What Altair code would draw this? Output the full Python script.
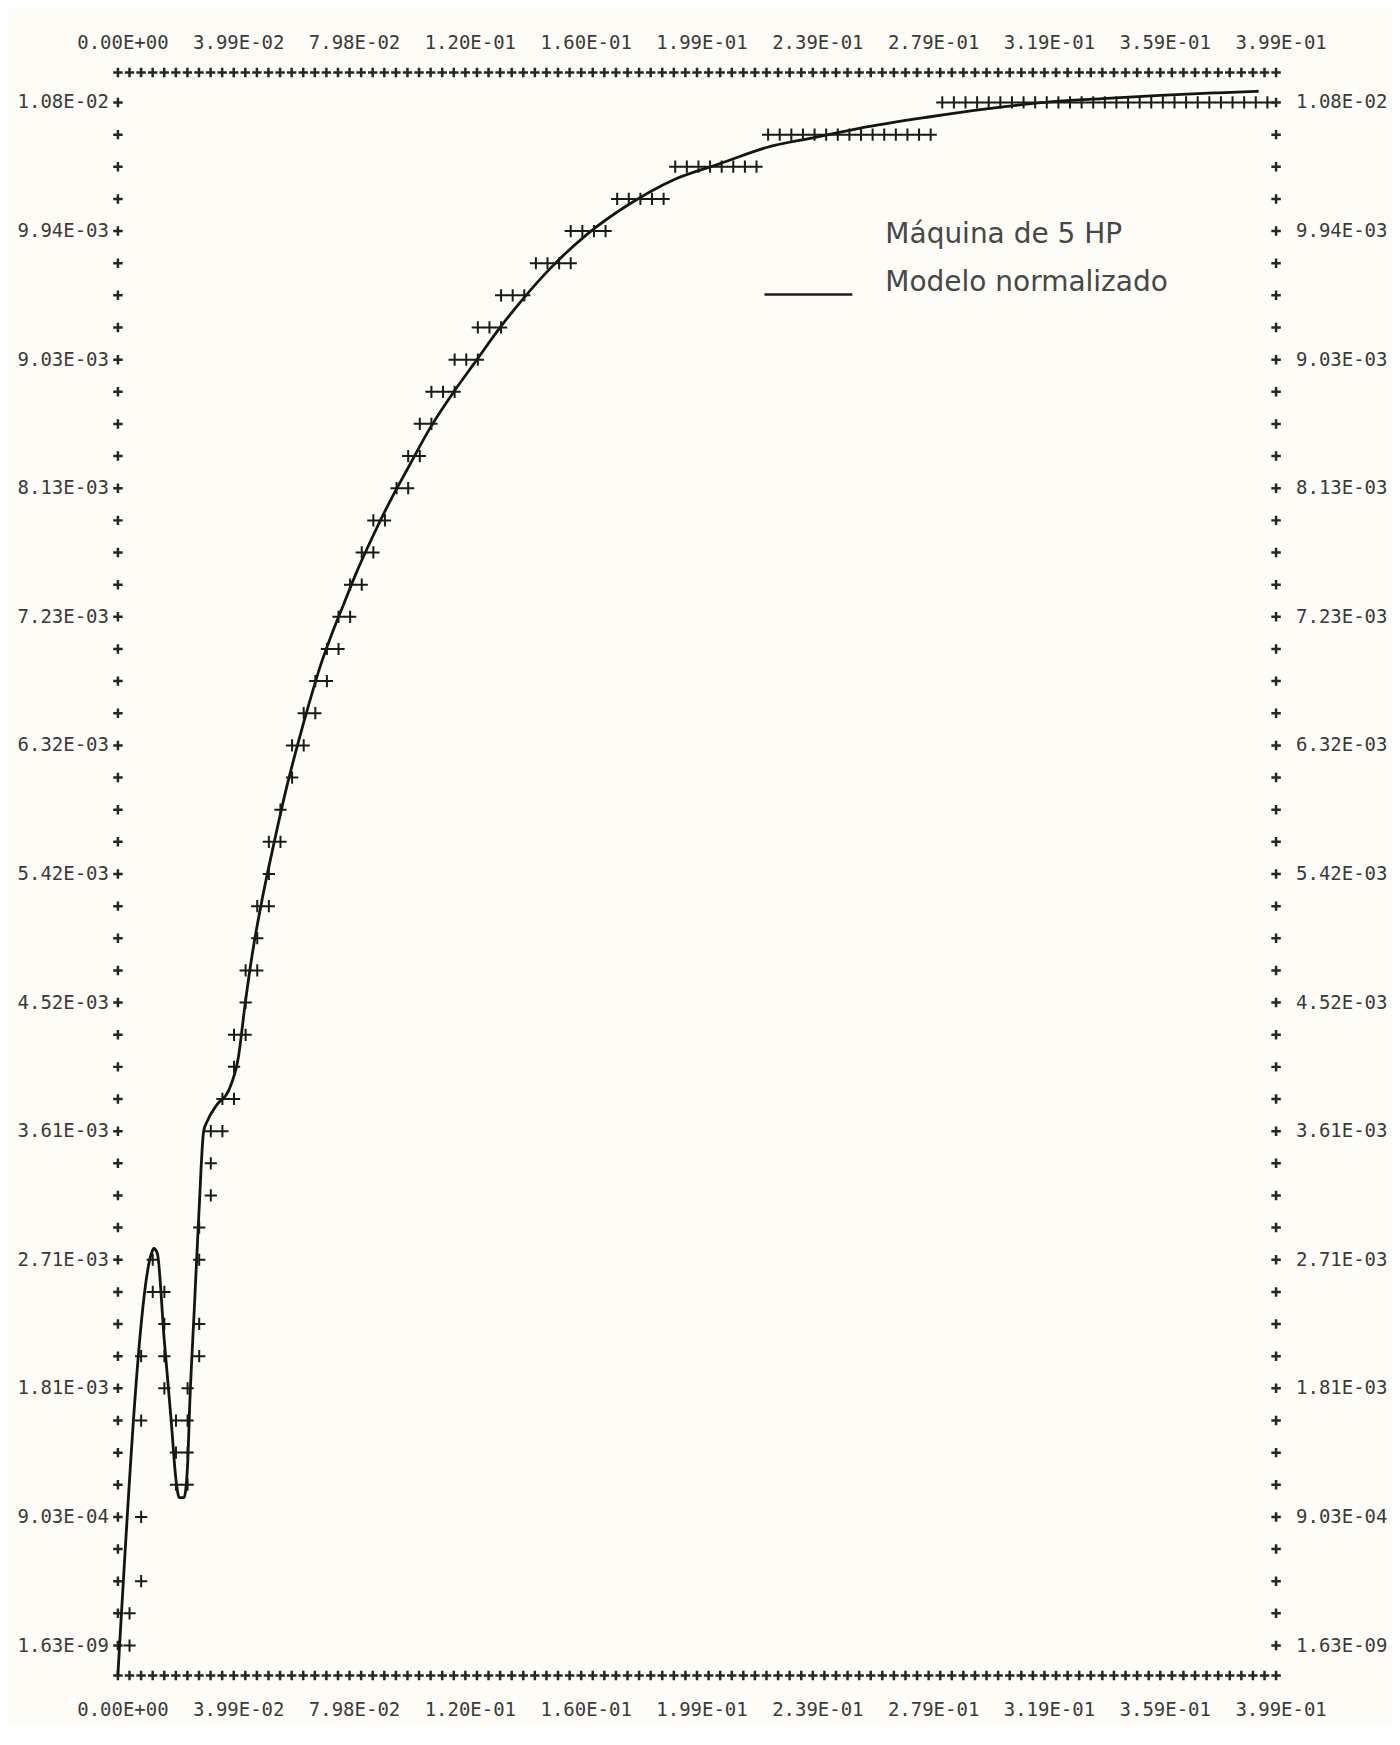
import altair as alt
import pandas as pd

# ---------------- axis text (as printed) ----------------
x_tick_values = [0.0, 0.0399, 0.0798, 0.1197, 0.1596, 0.1995, 0.2394, 0.2793, 0.3192, 0.3591, 0.399]
x_tick_labels = ["0.00E+00", "3.99E-02", "7.98E-02", "1.20E-01", "1.60E-01", "1.99E-01",
                 "2.39E-01", "2.79E-01", "3.19E-01", "3.59E-01", "3.99E-01"]
y_tick_values = [0.0, 0.000903, 0.001806, 0.002709, 0.003612, 0.004515, 0.005418,
                 0.006321, 0.007224, 0.008127, 0.009030, 0.009933, 0.010836]
y_tick_labels = ["1.63E-09", "9.03E-04", "1.81E-03", "2.71E-03", "3.61E-03", "4.52E-03", "5.42E-03",
                 "6.32E-03", "7.23E-03", "8.13E-03", "9.03E-03", "9.94E-03", "1.08E-02"]

# ---------------- measured points "Maquina de 5 HP" (printer rows) ----------------
meas_row_y = [0.0, 0.000226, 0.000452, 0.000903, 0.001129, 0.001355, 0.001580, 0.001806,
              0.002032, 0.002258, 0.002483, 0.002709, 0.002935, 0.003161, 0.003386, 0.003612,
              0.003838, 0.004064, 0.004289, 0.004515, 0.004741, 0.004967, 0.005192, 0.005418,
              0.005644, 0.005870, 0.006095, 0.006321, 0.006547, 0.006773, 0.006998, 0.007224,
              0.007450, 0.007676, 0.007901, 0.008127, 0.008353, 0.008579, 0.008804, 0.009030,
              0.009256, 0.009482, 0.009707, 0.009933, 0.010159, 0.010385, 0.010610, 0.010836]
meas_row_x = [
    [0.004], [0.004], [0.008], [0.008],
    [0.020, 0.024], [0.020, 0.024], [0.008, 0.020, 0.024], [0.016, 0.024],
    [0.008, 0.016, 0.028], [0.016, 0.028], [0.012, 0.016], [0.012, 0.028],
    [0.028], [0.032], [0.032], [0.032, 0.036],
    [0.036, 0.040], [0.040], [0.040, 0.044], [0.044],
    [0.044, 0.048], [0.048], [0.048, 0.052], [0.052],
    [0.052, 0.056], [0.056], [0.060], [0.060, 0.064],
    [0.064, 0.068], [0.068, 0.072], [0.072, 0.076], [0.076, 0.080],
    [0.080, 0.084], [0.084, 0.088], [0.088, 0.092], [0.096, 0.100],
    [0.100, 0.104], [0.104, 0.108], [0.108, 0.112, 0.116], [0.116, 0.120, 0.124],
    [0.124, 0.128, 0.132], [0.132, 0.136, 0.140], [0.144, 0.148, 0.152, 0.156],
    [0.156, 0.160, 0.164, 0.168],
    [0.172, 0.176, 0.180, 0.184, 0.188],
    [0.192, 0.196, 0.200, 0.204, 0.208, 0.212, 0.216, 0.220],
    [0.224, 0.228, 0.232, 0.236, 0.240, 0.244, 0.248, 0.252, 0.256, 0.260, 0.264,
     0.268, 0.272, 0.276, 0.280],
    [0.284, 0.288, 0.292, 0.296, 0.300, 0.304, 0.308, 0.312, 0.316, 0.320, 0.324,
     0.328, 0.332, 0.336, 0.340, 0.344, 0.348, 0.352, 0.356, 0.360, 0.364, 0.368,
     0.372, 0.376, 0.380, 0.384, 0.388, 0.392, 0.396],
]

# ---------------- "Modelo normalizado" curve ----------------
model_x = [0.0, 0.01157, 0.01237, 0.01357, 0.01596, 0.01835, 0.01995, 0.02115, 0.02274,
           0.02394, 0.02474, 0.02633, 0.02793, 0.02953, 0.03072, 0.03392, 0.03830, 0.04150,
           0.04389, 0.04628, 0.04988, 0.05387, 0.05786, 0.06185, 0.06584, 0.06983, 0.07382,
           0.07781, 0.08180, 0.08778, 0.09377, 0.09975, 0.10773, 0.11571, 0.12369, 0.13167,
           0.13965, 0.14963, 0.16160, 0.17556, 0.19152, 0.20748, 0.22344, 0.23940, 0.25536,
           0.27930, 0.29925, 0.31920, 0.33915, 0.35910, 0.37905, 0.39300]
model_y = [-0.000203, 0.002754, 0.002788, 0.002754, 0.002145, 0.001580, 0.001174, 0.001038,
           0.001038, 0.001242, 0.001693, 0.002370, 0.003048, 0.003612, 0.003680, 0.003793,
           0.003905, 0.004131, 0.004515, 0.004854, 0.005260, 0.005644, 0.006005, 0.006321,
           0.006614, 0.006885, 0.007111, 0.007314, 0.007517, 0.007788, 0.008037, 0.008262,
           0.008556, 0.008804, 0.009030, 0.009256, 0.009459, 0.009685, 0.009910, 0.010114,
           0.010294, 0.010407, 0.010520, 0.010588, 0.010655, 0.010734, 0.010791, 0.010836,
           0.010863, 0.010886, 0.010904, 0.010915]

legend_labels = ["Máquina de 5 HP", "Modelo normalizado"]

# ---------------- printer frame marks (one "+" per print column / row) ----------------
border_x = [round(i * (x_tick_values[1] / 10), 6) for i in range(101)]
axis_y = [round(k * (y_tick_values[1] / 4), 7) for k in range(49)]

W, H = 1159, 1604
MONO = "DejaVu Sans Mono"
INK = "#1a1a1a"
LABEL_INK = "#3a3a3a"
CROSS = "M-1,0L1,0M0,-1L0,1"
XS = alt.Scale(domain=[0, 0.399], nice=False, zero=False)
YS = alt.Scale(domain=[-0.00021, 0.011046], nice=False, zero=False)


def X():
    return alt.X("x:Q", scale=XS, axis=None)


def Y():
    return alt.Y("y:Q", scale=YS, axis=None)


frame_mark = dict(shape=CROSS, filled=False, size=90, strokeWidth=2.5, color="#262626", opacity=1)

border_df = pd.DataFrame({"x": border_x})
top_border = alt.Chart(border_df).mark_point(**frame_mark).encode(x=X(), y=alt.value(0))
bottom_border = alt.Chart(border_df).mark_point(**frame_mark).encode(x=X(), y=alt.value(H))

axis_df = pd.DataFrame({"y": axis_y})
left_col = alt.Chart(axis_df).mark_point(**frame_mark).encode(x=alt.value(0), y=Y())
right_col = alt.Chart(axis_df).mark_point(**frame_mark).encode(x=alt.value(W), y=Y())

xlab_df = pd.DataFrame({"x": x_tick_values, "t": x_tick_labels})
lab_style = dict(font=MONO, fontSize=19, color=LABEL_INK, baseline="middle")
top_labels = alt.Chart(xlab_df).mark_text(align="center", dx=5, **lab_style).encode(
    x=X(), y=alt.value(-30), text="t:N")
bottom_labels = alt.Chart(xlab_df).mark_text(align="center", dx=5, **lab_style).encode(
    x=X(), y=alt.value(H + 35), text="t:N")

ylab_df = pd.DataFrame({"y": y_tick_values, "t": y_tick_labels})
left_labels = alt.Chart(ylab_df).mark_text(align="right", **lab_style).encode(
    x=alt.value(-9), y=Y(), text="t:N")
right_labels = alt.Chart(ylab_df).mark_text(align="left", **lab_style).encode(
    x=alt.value(W + 20), y=Y(), text="t:N")

meas_records = []
for yv, xs in zip(meas_row_y, meas_row_x):
    for xv in xs:
        meas_records.append({"x": xv, "y": yv})
meas_df = pd.DataFrame(meas_records)
meas = alt.Chart(meas_df).mark_point(shape=CROSS, filled=False, size=150, strokeWidth=2.0,
                                     color=INK, opacity=1).encode(x=X(), y=Y())

model_df = pd.DataFrame({"x": model_x, "y": model_y})
model = alt.Chart(model_df).mark_line(color="#141414", strokeWidth=2.8, interpolate="monotone").encode(
    x=X(), y=Y())

dummy = pd.DataFrame({"a": [0]})
leg_style = dict(font="DejaVu Sans", fontSize=28, color="#474747", align="left", baseline="middle")
leg1 = alt.Chart(dummy).mark_text(text=legend_labels[0], **leg_style).encode(
    x=alt.value(768), y=alt.value(163))
leg2 = alt.Chart(dummy).mark_text(text=legend_labels[1], **leg_style).encode(
    x=alt.value(768), y=alt.value(211))
leg_line = alt.Chart(dummy).mark_rule(color="#1e1e1e", strokeWidth=2.5).encode(
    x=alt.value(647), x2=alt.value(735), y=alt.value(222))

chart = alt.layer(
    top_border, bottom_border, left_col, right_col,
    top_labels, bottom_labels, left_labels, right_labels,
    model, meas, leg1, leg2, leg_line,
).properties(
    width=W, height=H,
    background="#fdfcf6",
    padding={"left": 110, "top": 64, "right": 116, "bottom": 50},
    autosize=alt.AutoSizeParams(type="none"),
).configure_view(strokeWidth=0)

chart.save("out.html", embed_options={"renderer": "svg", "actions": False})
